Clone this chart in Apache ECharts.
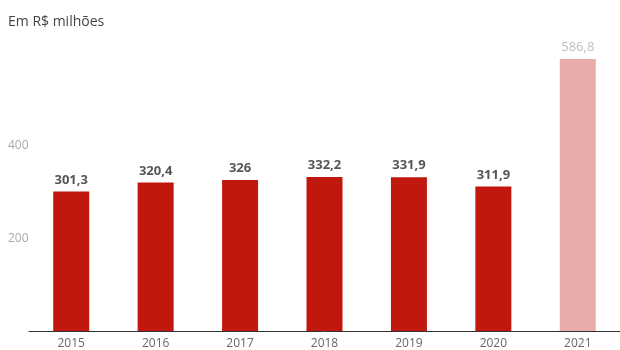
<!DOCTYPE html>
<html><head><meta charset="utf-8">
<script src="https://cdn.jsdelivr.net/npm/echarts@6/dist/echarts.min.js"></script>
<style>html,body{margin:0;padding:0;background:#fff}#c{width:620px;height:350px}</style>
</head><body><div id="c"></div>
<script>
var years = ['2015','2016','2017','2018','2019','2020','2021'];
var values = [301.3, 320.4, 326, 332.2, 331.9, 311.9, 586.8];
var yTicks = [200, 400];
var highlightYear = '2021';

var chart = echarts.init(document.getElementById('c'));
function fmt(v){ return String(v).replace('.', ','); }
var data = values.map(function(v, i){
  var light = years[i] === highlightYear;
  return {
    value: v,
    itemStyle: { color: light ? '#e8adab' : '#c0170f' },
    label: light ? { color: '#bdbdbd', fontWeight: 'normal' } : {}
  };
});
chart.setOption({
  animation: false,
  textStyle: { fontFamily: 'Open Sans' },
  title: { text: 'Em R$ milhões', left: 3, top: 10,
    textStyle: { fontFamily: 'Open Sans', fontSize: 14, fontWeight: 'normal', color: '#444' } },
  grid: { left: 29, right: -5, top: 53, bottom: 19 },
  xAxis: { type: 'category', data: years,
    axisLine: { lineStyle: { color: '#333', width: 1 } },
    axisTick: { show: false },
    axisLabel: { color: '#666', fontSize: 12, margin: 7 } },
  yAxis: { type: 'value', min: 0, max: 600, interval: 200,
    splitLine: { show: false },
    axisLabel: { color: '#aaa', fontSize: 12, align: 'left', margin: 21,
      formatter: function(v){ return yTicks.indexOf(v) >= 0 ? String(v) : ''; } } },
  series: [{ type: 'bar', data: data, barWidth: 36,
    label: { show: true, position: 'top', distance: 5, fontSize: 13, fontWeight: 'bold', color: '#555',
      formatter: function(p){ return fmt(p.value); } } }]
});
</script></body></html>
